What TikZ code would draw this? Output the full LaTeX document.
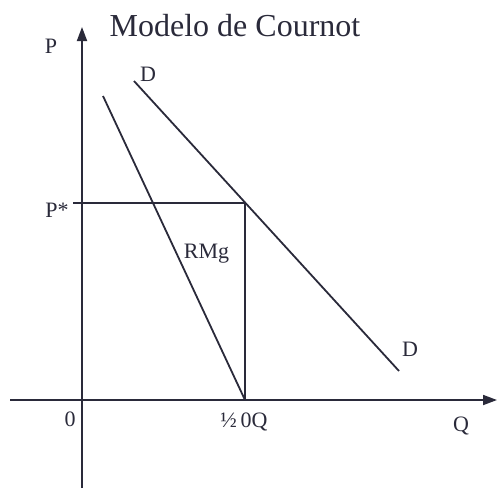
\documentclass[tikz,border=0pt]{standalone}
\usepackage{fontspec}
\setmainfont{Liberation Serif}
\usetikzlibrary{arrows.meta,positioning}
\definecolor{ink}{RGB}{42,42,58}
\tikzset{lbl/.style={anchor=base,inner sep=0pt,font=\fontsize{22}{26}\selectfont}}

\begin{document}
\begin{tikzpicture}[x=1pt,y=-1pt,>={Triangle[length=14pt,width=10pt]},line width=1.8pt,draw=ink,text=ink]
\useasboundingbox (0,0) rectangle (497,488);
% axes
\coordinate (xl) at (10,400);
\coordinate (xr) at (497,400);
\coordinate (yb) at (82,488);
\coordinate (yt) at (82,27);
\draw[->] (xl) -- (xr);
\draw[->] (yb) -- (yt);
% demand and marginal revenue
\coordinate (d1) at (134,81);
\coordinate (d2) at (399,371);
\coordinate (r1) at (103,96);
\coordinate (qh) at (245,400);
\coordinate (eq) at (245,203);
\coordinate (ps) at (73,203);
\draw (d1) -- (d2);
\draw (r1) -- (qh);
\draw (ps) -- (eq) -- (qh);
% labels
\node[lbl,font=\fontsize{32}{36}\selectfont] (title) at (235,36) {Modelo de Cournot};
\node[lbl] (p) at (51,53) {P};
\node[lbl] (dtop) at (148,81) {D};
\node[lbl] (dbot) at (410,356) {D};
\node[lbl] (pstar) at (57,217) {P*};
\node[lbl,anchor=base west] (rmg) at (183,258) {RMg};
\node[lbl] (zero) at (70,426) {0};
\node[lbl] (half) at (244,427) {½\,0Q};
\node[lbl] (q) at (461,431) {Q};
\end{tikzpicture}
\end{document}
